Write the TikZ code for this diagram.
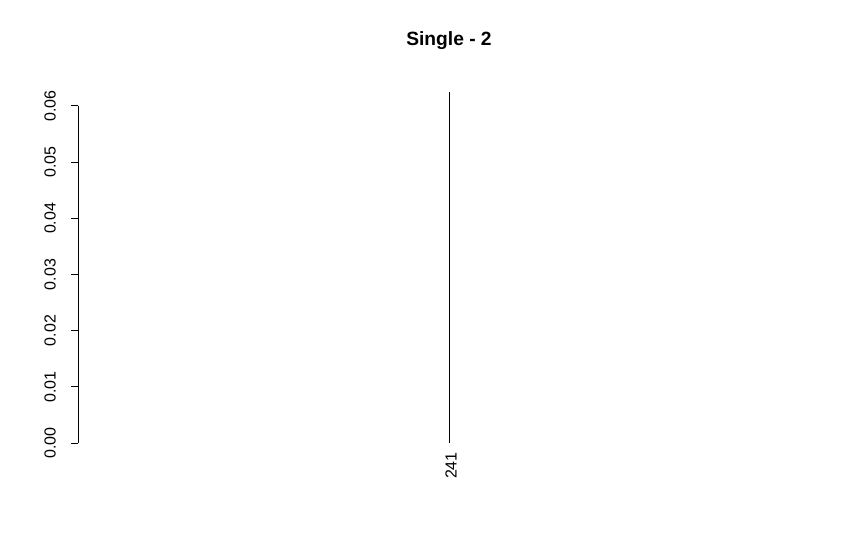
\documentclass[tikz,border=0pt]{standalone}
\usepackage{fontspec}
\setmainfont{Liberation Sans}
\begin{document}
\begin{tikzpicture}[x=0.75pt,y=-0.75pt,
    ticklabel/.style={rotate=90,inner sep=0pt,font=\fontsize{12pt}{14pt}\selectfont},
    leaflabel/.style={rotate=90,anchor=east,inner sep=0pt,font=\fontsize{12pt}{14pt}\selectfont},
    plottitle/.style={inner sep=0pt,font=\fontsize{14.4pt}{17pt}\selectfont\bfseries}]

    % Page
    \useasboundingbox (0,0) rectangle (861,556);

    % Title
    \node[plottitle] (title) at (449,41) {Single - 2};

    % Height axis
    \coordinate (axtop) at (78,106);
    \coordinate (axbot) at (78,443);
    \draw[line width=0.75pt] (axtop) -- (axbot);

    % Ticks and their labels
    \foreach \i in {0,...,6} {
        \pgfmathsetmacro{\y}{443-\i*337/6}
        \coordinate (tick\i) at (78,\y);
        \draw[line width=0.75pt] (tick\i) -- ++(-7,0);
        \node[ticklabel] (lab\i) at (50,\y) {0.0\i};
    }

    % Single leaf
    \coordinate (merge) at (449,92);
    \coordinate (leaf) at (449,443);
    \draw[line width=0.75pt] (merge) -- (leaf);
    \node[leaflabel] (leaf241) at (451,452) {241};

\end{tikzpicture}
\end{document}
